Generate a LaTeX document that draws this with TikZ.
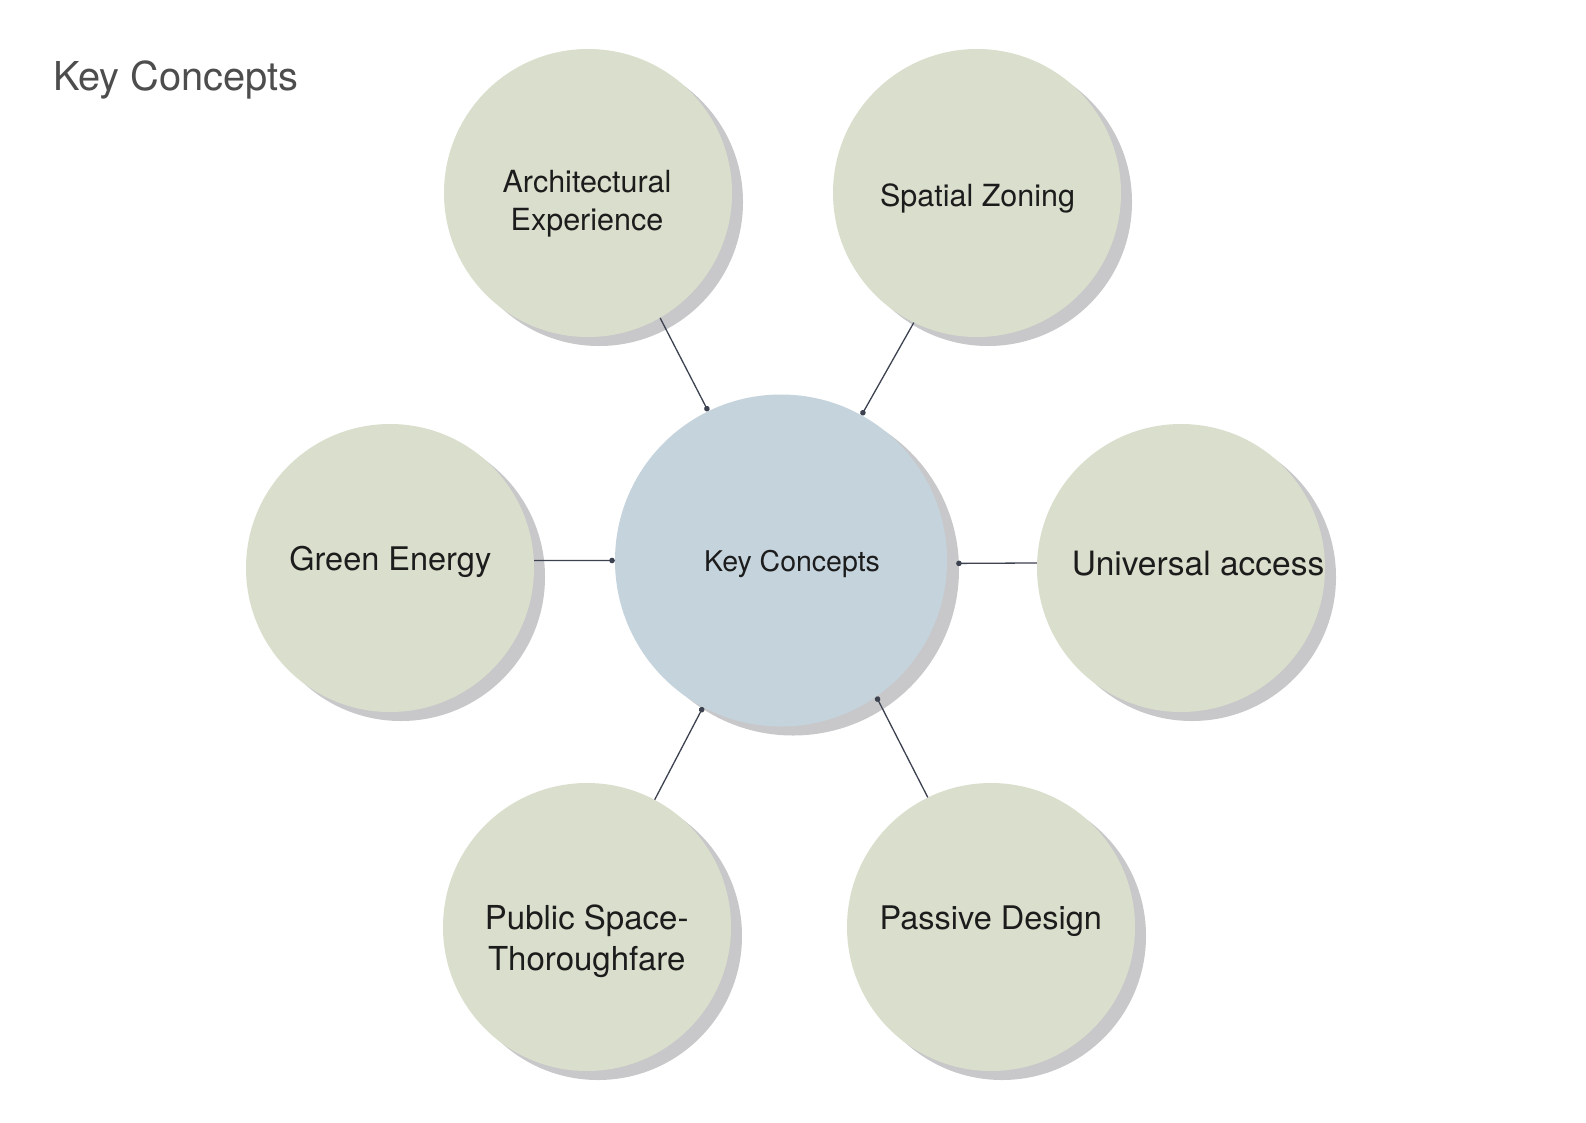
\documentclass[tikz,border=0pt]{standalone}
\usepackage{fontspec}
\setmainfont{TeX Gyre Heros}
\usetikzlibrary{arrows.meta,shadows}
\definecolor{bubblegreen}{HTML}{D9DFCC}
\definecolor{bubbleblue}{HTML}{C5D3DC}
\definecolor{shadowgray}{HTML}{C8C8CA}
\definecolor{linecol}{HTML}{3C4250}
\definecolor{titlecol}{HTML}{4D4D4D}
\definecolor{textcol}{HTML}{1C1C1C}
\tikzset{
  bubble/.style={circle, fill=bubblegreen, draw=none, inner sep=0pt, minimum size=288pt,
    drop shadow={shadow xshift=11pt, shadow yshift=-9pt, fill=shadowgray, opacity=1}},
  hub/.style={circle, fill=bubbleblue, draw=none, inner sep=0pt, minimum size=332pt,
    drop shadow={shadow xshift=12pt, shadow yshift=-9pt, fill=shadowgray, opacity=1}},
  conn/.style={draw=linecol, line width=1.3pt, -{Circle[length=5.5pt]}},
  lbl/.style={anchor=base, inner sep=0pt, text=textcol},
}
\begin{document}
\begin{tikzpicture}[x=1pt,y=-1pt]
\useasboundingbox (0,0) rectangle (1586,1122);
\fill[white] (0,0) rectangle (1586,1122);

\node[anchor=base west, inner sep=0pt, text=titlecol, font=\fontsize{39.8}{46}\selectfont] (title) at (53,90) {Key Concepts};

\node[bubble] (arch) at (588,193) {};
\node[bubble] (sz) at (977,193) {};
\node[bubble] (ge) at (390,568) {};
\node[bubble] (ua) at (1181,568) {};
\node[bubble] (ps) at (587,927) {};
\node[bubble] (pd) at (991,927) {};
\node[hub] (key) at (781,560.5) {};

\node[lbl, font=\fontsize{30.5}{37}\selectfont] (tarch1) at (587,192.7) {Architectural};
\node[lbl, font=\fontsize{30.5}{37}\selectfont] (tarch2) at (587,230.5) {Experience};
\node[lbl, font=\fontsize{30.5}{37}\selectfont] (tsz) at (977.5,206) {Spatial Zoning};
\node[lbl, font=\fontsize{32.5}{39}\selectfont] (tge) at (390.3,570.7) {Green Energy};
\node[lbl, font=\fontsize{33.5}{40}\selectfont] (tua) at (1198,575) {Universal access};
\node[lbl, font=\fontsize{32.5}{39}\selectfont] (tpd) at (990.8,929.3) {Passive Design};
\node[lbl, font=\fontsize{33}{40}\selectfont] (tps1) at (586.7,929.7) {Public Space-};
\node[lbl, font=\fontsize{33}{40}\selectfont] (tps2) at (586.7,970.3) {Thoroughfare};
\node[lbl, font=\fontsize{28.5}{34}\selectfont] (tkey) at (792,571.7) {Key Concepts};

\draw[conn] (arch.-60) -- (key.116);
\draw[conn] (sz.-116) -- (key.61);
\draw[conn] (ge.3) -- (key.180);
\draw[conn] (ua.178) -- ([xshift=9pt]key.-1);
\draw[conn] (ps.62) -- (key.-118);
\draw[conn] (pd.116) -- (key.-55);
\end{tikzpicture}
\end{document}
